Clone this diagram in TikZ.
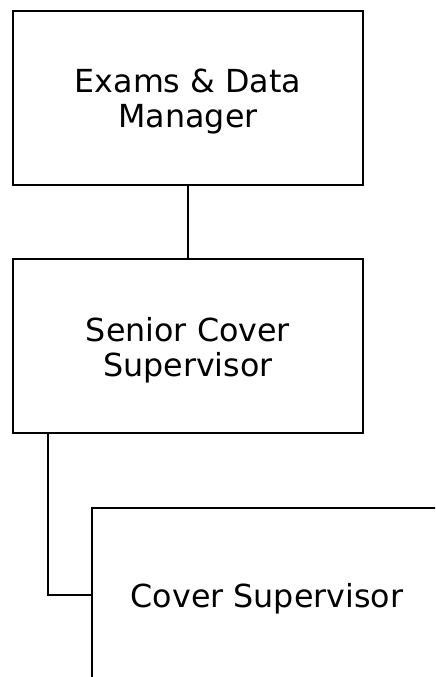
\documentclass[tikz,border=0pt]{standalone}
\usepackage{fontspec}
\setmainfont{DejaVu Sans}

\begin{document}
\begin{tikzpicture}[x=0.75pt,y=-0.75pt,
	post/.style={draw,line width=1.9pt,minimum width=262.5pt,minimum height=130.5pt,inner sep=0pt,text height=45pt,text depth=0pt,align=center,font=\fontsize{23.8}{26.25}\selectfont},
	onepost/.style={post,text height=18pt},
	link/.style={line width=1.9pt}]
			\useasboundingbox (0,0) rectangle (435,677);
			\clip (0,0) rectangle (435,677);
			% posts
			\node[post] (manager) at (188,98) {Exams \& Data\\Manager};
			\node[post] (senior) at (188,346) {Senior Cover\\Supervisor};
			\node[onepost] (cover) at (267,595) {Cover Supervisor};
			% links
			\draw[link] (manager) -- (senior);
			\coordinate (drop) at (48,433);
			\draw[link] (drop) |- (cover.west);
		\end{tikzpicture}
\end{document}
